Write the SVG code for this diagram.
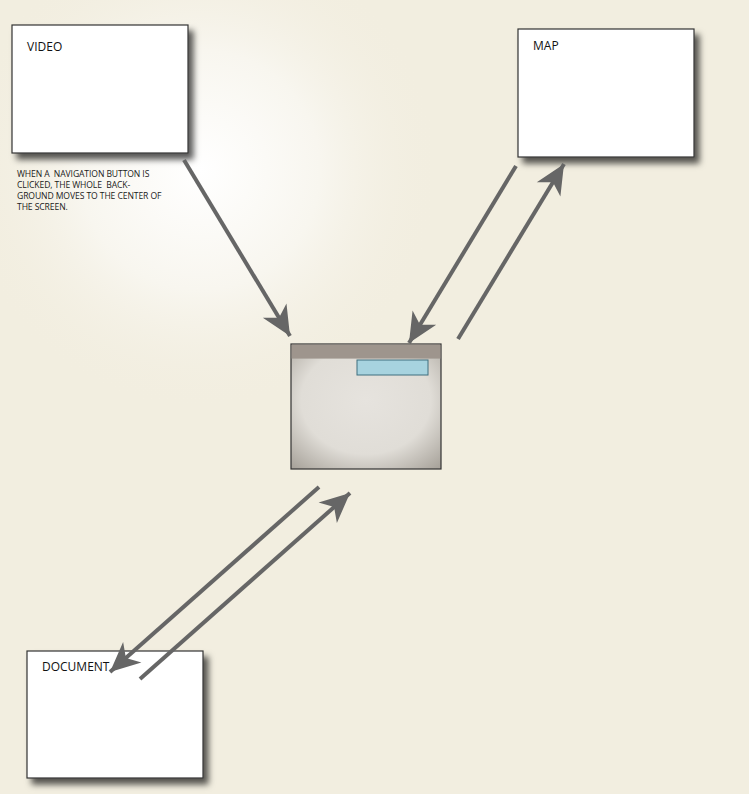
<svg xmlns="http://www.w3.org/2000/svg" width="749" height="794" viewBox="0 0 749 794">
<defs>
<style>
.card{fill:#ffffff;stroke:#333333;stroke-width:1.2;filter:url(#shadow)}
.lbl{font-family:"Open Sans","Liberation Sans",sans-serif;font-size:12px;fill:#111111}
.note{font-family:"Open Sans","Liberation Sans",sans-serif;font-size:8.6px;fill:#1a1a1a;letter-spacing:-0.1px;white-space:pre}
.conn{stroke:#666666;stroke-width:4;fill:none;stroke-linecap:butt;marker-end:url(#head)}
</style>
<radialGradient id="glow" cx="200" cy="170" r="240" gradientUnits="userSpaceOnUse">
<stop offset="0" stop-color="#ffffff"/>
<stop offset="0.5" stop-color="#f8f6ef"/>
<stop offset="1" stop-color="#f2eee0" stop-opacity="0"/>
</radialGradient>
<radialGradient id="screen" cx="0.5" cy="0.45" r="0.72">
<stop offset="0" stop-color="#e6e3de"/>
<stop offset="0.6" stop-color="#e0ddd7"/>
<stop offset="1" stop-color="#a9a49c"/>
</radialGradient>
<filter id="shadow" x="-10%" y="-10%" width="130%" height="130%">
<feDropShadow dx="5" dy="6" stdDeviation="3" flood-color="#000000" flood-opacity="0.65"/>
</filter>
<marker id="head" markerUnits="userSpaceOnUse" markerWidth="34" markerHeight="34" viewBox="-30 -15 32 30" refX="0" refY="0" orient="auto">
<path d="M0,0 L-28,-13 L-20,0 L-28,13 Z" fill="#666666"/>
</marker>
</defs>
<rect x="0" y="0" width="749" height="794" fill="#f2eee0"/>
<rect x="0" y="0" width="749" height="794" fill="url(#glow)"/>

<g id="video">
<rect class="card" x="12" y="25" width="176" height="128"/>
<text class="lbl" x="27" y="51">VIDEO</text>
</g>
<g id="note">
<text class="note" x="17" y="177">WHEN A  NAVIGATION BUTTON IS</text>
<text class="note" x="17" y="188">CLICKED, THE WHOLE  BACK-</text>
<text class="note" x="17" y="199">GROUND MOVES TO THE CENTER OF</text>
<text class="note" x="17" y="210">THE SCREEN.</text>
</g>
<g id="map">
<rect class="card" x="518" y="29" width="176" height="128"/>
<text class="lbl" x="533" y="50">MAP</text>
</g>
<g id="document">
<rect class="card" x="27" y="651" width="176" height="127"/>
<text class="lbl" x="42" y="671">DOCUMENT</text>
</g>
<g id="center">
<rect x="291" y="344" width="150" height="125" fill="url(#screen)" stroke="#333333" stroke-width="1.2"/>
<rect x="291.6" y="344.6" width="148.8" height="14" fill="#9e958d"/>
<rect x="357" y="360" width="71" height="15" fill="#a7d3df" stroke="#3f6f7e" stroke-width="1"/>
</g>

<g id="connectors">
<line class="conn" x1="184" y1="160" x2="290" y2="336"/>
<line class="conn" x1="516" y1="166" x2="409" y2="343"/>
<line class="conn" x1="458" y1="339" x2="564" y2="164"/>
<line class="conn" x1="319" y1="487" x2="110" y2="672"/>
<line class="conn" x1="140" y1="679" x2="350" y2="493"/>
</g>
</svg>
